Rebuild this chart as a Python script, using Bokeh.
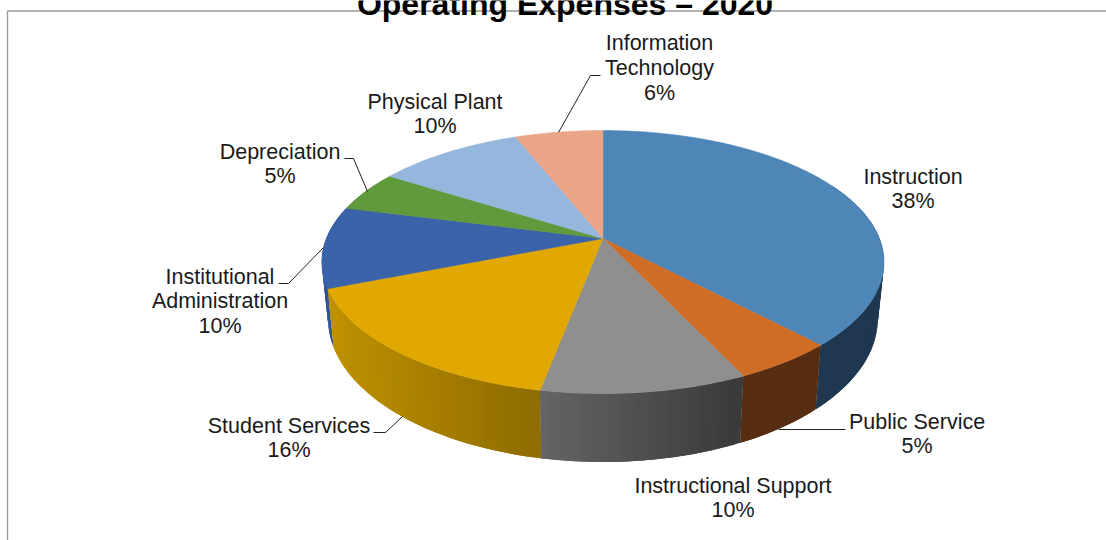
import numpy as np
from bokeh.core.properties import value
from bokeh.embed import file_html
from bokeh.models import ColumnDataSource
from bokeh.plotting import figure
from bokeh.resources import INLINE

# Operating expense shares, clockwise from twelve o'clock
categories = ["Instruction", "Public Service", "Instructional Support", "Student Services",
              "Institutional Administration", "Depreciation", "Physical Plant",
              "Information Technology"]
shares = [38, 5, 10, 16, 10, 5, 10, 6]

# Wrapped label lines for each category
label_lines = [["Instruction"], ["Public Service"], ["Instructional Support"], ["Student Services"],
               ["Institutional", "Administration"], ["Depreciation"], ["Physical Plant"],
               ["Information", "Technology"]]

# Face colours and the left/right tones of each slice's outer wall
face_colors = ["#4F86B8", "#CF6D27", "#8F8F8F", "#E0A800", "#3B63AA", "#619A3D", "#95B6DD", "#EAA588"]
wall_left = ["#1F3850", "#562D10", "#666666", "#C09200", "#2F5597", "#4A752E", "#7189A8", "#B07D66"]
wall_right = ["#1F3850", "#562D10", "#3A3A3A", "#8E6C00", "#2F5597", "#4A752E", "#7189A8", "#B07D66"]

# Label placement: centre x and first line centre y of each block
label_x = [912.5, 916.5, 732.5, 288.5, 219.5, 279.5, 434.5, 659]
label_y = [176, 421, 485, 425, 276, 151, 101, 42.4]
line_step = 24.8

# Leader polylines for labels that sit away from their slice
leader_xs = [[845, 778], [373, 385, 402], [278, 288, 323], [344, 353, 367], [600, 590, 558]]
leader_ys = [[429, 429], [432, 432, 416], [283, 283, 247], [158, 158, 191], [75, 75, 132]]

# Pie projection: apex position, axis scales and perspective strength
APEX_X, APEX_Y = 602.4, 238
RADIUS_X, RADIUS_Y, PERSPECTIVE = 276.5, 127.3, 0.179
# Lower rim of the disc relative to the upper rim
LOWER_SCALE_X, LOWER_SCALE_Y, LOWER_Y = 0.978, 1.09, 292.5


def upper(theta):
    s = 1 / (1 + PERSPECTIVE * np.cos(theta))
    return APEX_X + RADIUS_X * np.sin(theta) * s, APEX_Y - RADIUS_Y * np.cos(theta) * s


def lower(theta):
    x, y = upper(theta)
    return APEX_X + (x - APEX_X) * LOWER_SCALE_X, LOWER_Y + (y - APEX_Y) * LOWER_SCALE_Y


def mix(c0, c1, t):
    a = [int(c0[i:i + 2], 16) for i in (1, 3, 5)]
    b = [int(c1[i:i + 2], 16) for i in (1, 3, 5)]
    return "#%02x%02x%02x" % tuple(round(u + (v - u) * t) for u, v in zip(a, b))


edges = np.cumsum([0] + shares) / sum(shares) * 2 * np.pi

p = figure(width=1106, height=540, x_range=(0, 1106), y_range=(540, 0),
           output_backend="svg", toolbar_location=None, min_border=0)
p.axis.visible = False
p.grid.visible = False
p.outline_line_color = None
p.background_fill_color = "white"

# Outer wall: narrow strips painted from the back of the disc to the front.
# Each strip is overlapped by its neighbour so no seams show between tones.
strips = []
for i, (a, b) in enumerate(zip(edges[:-1], edges[1:])):
    n = max(2, int((b - a) / 0.02))
    ticks = np.linspace(a, b, n + 1)
    xs_mid = upper(ticks)[0]
    lo, hi = xs_mid.min(), xs_mid.max()
    for k, (t0, t1) in enumerate(zip(ticks[:-1], ticks[1:])):
        tm = (t0 + t1) / 2
        if np.cos(tm) > 0.45:
            continue
        span = ticks[k:min(k + 3, n + 1)]
        ux, uy = upper(span)
        lx, ly = lower(span)
        frac = (upper(tm)[0] - lo) / (hi - lo)
        strips.append((i, k, np.cos(tm), [*ux, *lx[::-1]], [*uy, *ly[::-1]],
                       mix(wall_left[i], wall_right[i], frac)))
# Paint slice by slice from back to front, each slice's strips in reverse angular order
strips.sort(key=lambda s: (-np.cos((edges[s[0]] + edges[s[0] + 1]) / 2), -s[1]))
p.patches([s[3] for s in strips], [s[4] for s in strips],
          fill_color=[s[5] for s in strips], line_color=None)

# Top faces
face_x, face_y = [], []
for a, b in zip(edges[:-1], edges[1:]):
    arc = np.linspace(a, b, max(3, int((b - a) / 0.01)))
    x, y = upper(arc)
    face_x.append([APEX_X, *x])
    face_y.append([APEX_Y, *y])
p.patches(face_x, face_y, fill_color=face_colors, line_color=face_colors, line_width=0.6)

# Leader lines
p.multi_line(leader_xs, leader_ys, line_color="#222222", line_width=1)

# Category labels with the share on the final line
tx, ty, tt = [], [], []
for lines, share, x, y in zip(label_lines, shares, label_x, label_y):
    for j, line in enumerate([*lines, f"{share}%"]):
        tx.append(x)
        ty.append(y + j * line_step)
        tt.append(line)
p.text("x", "y", "t", source=ColumnDataSource(dict(x=tx, y=ty, t=tt)),
       text_font=value("Liberation Sans"), text_font_size="21.5px", text_color="#1a1a1a",
       text_align="center", text_baseline="middle")

# Chart frame, open on the right and bottom
p.line([7, 7, 1106], [540, 10.5, 10.5], line_color="#9a9a9a", line_width=1.4)

# Title
p.text([564.5], [3], ["Operating Expenses – 2020"], text_font=value("Liberation Sans"),
       text_font_style="bold", text_font_size="32px", text_color="#000000",
       text_align="center", text_baseline="alphabetic")

open("out.html", "w").write(file_html(p, INLINE))
